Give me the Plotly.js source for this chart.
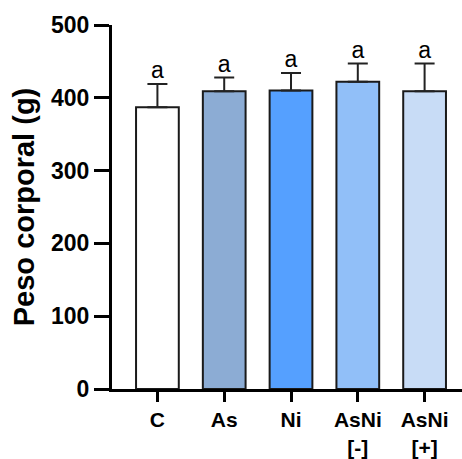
<!DOCTYPE html>
<html>
<head>
<meta charset="utf-8">
<script src="https://cdn.plot.ly/plotly-3.0.1.min.js"></script>
<style>html,body{margin:0;padding:0;background:#fff;}</style>
</head>
<body>
<div id="chart" style="width:462px;height:459px;"></div>
<script>
const categories = ["C", "As", "Ni", "AsNi<br>[-]", "AsNi<br>[+]"];
const meanWeight = [387, 409, 410, 422, 409];
const sdWeight = [32, 19, 24, 25, 38];
const sigLetters = ["a", "a", "a", "a", "a"];
const barColors = ["#FFFFFF", "#8CACD4", "#55A0FF", "#91BFF8", "#C8DCF6"];
const yTicks = [0, 100, 200, 300, 400, 500];

const font = "Liberation Sans, Arial, Helvetica, sans-serif";
const letterY = meanWeight.map((v, i) => v + sdWeight[i]);

const traces = [
  {
    type: "bar",
    x: categories,
    y: meanWeight,
    width: 0.64,
    marker: { color: barColors, line: { color: "#1a1a1a", width: 2 } },
    error_y: { type: "data", array: sdWeight, symmetric: false, arrayminus: sdWeight.map(() => 0), visible: true, color: "#222", thickness: 2, width: 10 },
    hoverinfo: "none"
  },
  {
    type: "scatter",
    mode: "text",
    x: categories,
    y: letterY,
    text: sigLetters,
    textposition: "top center",
    textfont: { family: font, size: 23, color: "#000" },
    cliponaxis: false,
    hoverinfo: "none"
  }
];

const layout = {
  width: 462,
  height: 459,
  margin: { l: 112, r: 0, t: 24.5, b: 70 },
  paper_bgcolor: "#fff",
  plot_bgcolor: "#fff",
  showlegend: false,
  bargap: 0,
  xaxis: {
    type: "category",
    range: [-0.68, 4.56],
    showline: true,
    linecolor: "#000",
    linewidth: 3,
    ticks: "outside",
    ticklen: 10,
    tickwidth: 3,
    tickcolor: "#000",
    showgrid: false,
    zeroline: false,
    tickfont: { family: font, size: 21, color: "#000", weight: "bold" }
  },
  yaxis: {
    range: [0, 500],
    tickvals: yTicks,
    ticktext: yTicks.map(String),
    showline: true,
    linecolor: "#000",
    linewidth: 3,
    ticks: "outside",
    ticklen: 15,
    tickwidth: 3,
    tickcolor: "#000",
    showgrid: false,
    zeroline: false,
    tickfont: { family: font, size: 23, color: "#000", weight: "bold" },
    title: { text: "Peso corporal (g)", font: { family: font, size: 29, color: "#000", weight: "bold" }, standoff: 8 }
  }
};

Plotly.newPlot("chart", traces, layout, { displayModeBar: false, staticPlot: true });
</script>
</body>
</html>
